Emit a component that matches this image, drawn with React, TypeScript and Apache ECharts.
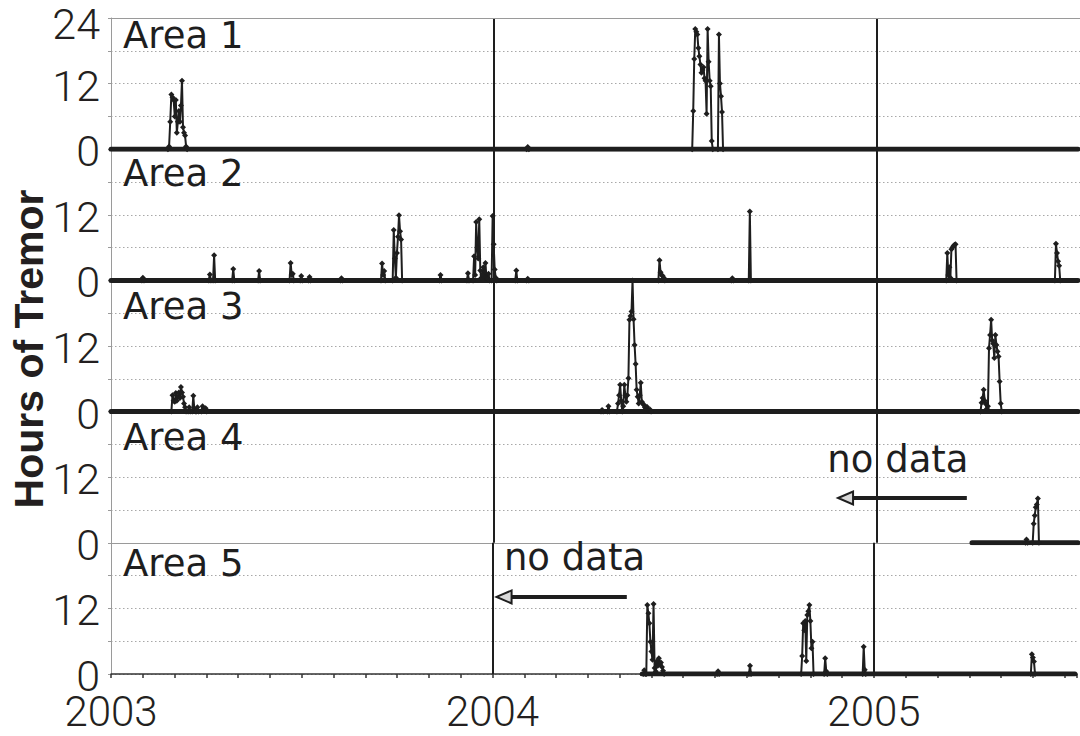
import React, { useEffect, useRef } from "react";
import * as echarts from "echarts";

type Reading = [string, number];

// Daily hours of tremor per monitoring area (days not listed are zero).
const area1Hours: Reading[] = [
  ["2003-02-23", 0], ["2003-02-24", 0.5], ["2003-02-25", 5], ["2003-02-26", 10], ["2003-02-27", 9.5],
  ["2003-02-28", 9], ["2003-03-01", 6], ["2003-03-02", 9], ["2003-03-03", 3], ["2003-03-04", 5],
  ["2003-03-05", 7], ["2003-03-06", 5], ["2003-03-07", 8], ["2003-03-08", 12.5], ["2003-03-09", 4],
  ["2003-03-10", 3], ["2003-03-11", 2.5], ["2003-03-12", 0.5], ["2003-03-13", 0],
  ["2004-02-02", 0], ["2004-02-03", 0.4], ["2004-02-04", 0],
  ["2004-07-08", 0], ["2004-07-09", 7], ["2004-07-10", 16.5], ["2004-07-11", 22], ["2004-07-12", 21.5],
  ["2004-07-13", 21], ["2004-07-14", 18.5], ["2004-07-15", 17], ["2004-07-16", 15.5], ["2004-07-17", 14],
  ["2004-07-18", 14.5], ["2004-07-19", 15], ["2004-07-20", 13], ["2004-07-21", 12.5], ["2004-07-22", 6.5],
  ["2004-07-23", 22], ["2004-07-24", 16], ["2004-07-25", 12.5], ["2004-07-26", 11.5], ["2004-07-27", 1.5],
  ["2004-07-28", 0],
  ["2004-08-02", 0], ["2004-08-03", 21], ["2004-08-04", 12], ["2004-08-05", 9.7], ["2004-08-06", 6.8],
  ["2004-08-07", 0],
];

const area2Hours: Reading[] = [
  ["2003-01-31", 0], ["2003-02-01", 0.5], ["2003-02-02", 0],
  ["2003-04-03", 0], ["2003-04-04", 1.1], ["2003-04-05", 0], ["2003-04-07", 0], ["2003-04-08", 4.6], ["2003-04-09", 0],
  ["2003-04-25", 0], ["2003-04-26", 2.1], ["2003-04-27", 0],
  ["2003-05-20", 0], ["2003-05-21", 1.7], ["2003-05-22", 0],
  ["2003-06-19", 0], ["2003-06-20", 3.2], ["2003-06-21", 1], ["2003-06-22", 1.2], ["2003-06-23", 0],
  ["2003-06-29", 0], ["2003-06-30", 0.8], ["2003-07-01", 0],
  ["2003-07-07", 0], ["2003-07-08", 0.6], ["2003-07-09", 0],
  ["2003-08-07", 0], ["2003-08-08", 0.4], ["2003-08-09", 0],
  ["2003-09-15", 0], ["2003-09-16", 3.1], ["2003-09-17", 1], ["2003-09-18", 1.7], ["2003-09-19", 0],
  ["2003-09-26", 0], ["2003-09-27", 9.2], ["2003-09-28", 4], ["2003-09-29", 0.5], ["2003-09-30", 5],
  ["2003-10-01", 8], ["2003-10-02", 11.9], ["2003-10-03", 9], ["2003-10-04", 7.5], ["2003-10-05", 0],
  ["2003-11-10", 0], ["2003-11-11", 1], ["2003-11-12", 0],
  ["2003-12-06", 0], ["2003-12-07", 1.3], ["2003-12-08", 0],
  ["2003-12-12", 0], ["2003-12-13", 4.4], ["2003-12-14", 1], ["2003-12-15", 10.7], ["2003-12-16", 6],
  ["2003-12-17", 4], ["2003-12-18", 11.2], ["2003-12-19", 1.8], ["2003-12-20", 0.5], ["2003-12-21", 1],
  ["2003-12-22", 2.4], ["2003-12-23", 0.5], ["2003-12-24", 3.2], ["2003-12-25", 0.5], ["2003-12-26", 0.3],
  ["2003-12-27", 1.2], ["2003-12-28", 0],
  ["2003-12-30", 0], ["2003-12-31", 11.8], ["2004-01-01", 6.6], ["2004-01-02", 2], ["2004-01-03", 0.5], ["2004-01-04", 0],
  ["2004-01-22", 0], ["2004-01-23", 1.8], ["2004-01-24", 0],
  ["2004-02-02", 0], ["2004-02-03", 0.3], ["2004-02-04", 0],
  ["2004-06-06", 0], ["2004-06-07", 3.7], ["2004-06-08", 1.5], ["2004-06-09", 1], ["2004-06-10", 0.8],
  ["2004-06-11", 0.5], ["2004-06-12", 0],
  ["2004-08-15", 0], ["2004-08-16", 0.4], ["2004-08-17", 0],
  ["2004-09-01", 0], ["2004-09-02", 12.6], ["2004-09-03", 0],
  ["2005-03-07", 0], ["2005-03-08", 5], ["2005-03-09", 1], ["2005-03-10", 2.4], ["2005-03-11", 0.5],
  ["2005-03-12", 5.7], ["2005-03-13", 6], ["2005-03-14", 6.3], ["2005-03-15", 6.5], ["2005-03-16", 6.6],
  ["2005-03-17", 0],
  ["2005-06-19", 0], ["2005-06-20", 6.7], ["2005-06-21", 5], ["2005-06-22", 3.5], ["2005-06-23", 2.7],
  ["2005-06-24", 0],
];

const area3Hours: Reading[] = [
  ["2003-02-26", 0], ["2003-02-27", 3], ["2003-02-28", 2], ["2003-03-01", 1.8], ["2003-03-02", 3.4],
  ["2003-03-03", 2], ["2003-03-04", 2.7], ["2003-03-05", 3.5], ["2003-03-06", 2.5], ["2003-03-07", 4.5],
  ["2003-03-08", 3.5], ["2003-03-09", 2.7], ["2003-03-10", 1.5], ["2003-03-11", 0.8], ["2003-03-12", 0],
  ["2003-03-14", 0], ["2003-03-15", 0.8], ["2003-03-16", 0],
  ["2003-03-18", 0], ["2003-03-19", 2.9], ["2003-03-20", 0.5], ["2003-03-21", 0],
  ["2003-03-22", 0], ["2003-03-23", 0.8], ["2003-03-24", 0],
  ["2003-03-27", 0], ["2003-03-28", 1], ["2003-03-29", 0.5], ["2003-03-30", 0.2], ["2003-03-31", 0.6],
  ["2003-04-01", 0],
  ["2004-04-12", 0], ["2004-04-13", 0.3], ["2004-04-14", 0], ["2004-04-18", 0], ["2004-04-19", 1], ["2004-04-20", 0],
  ["2004-04-27", 0], ["2004-04-28", 1.5], ["2004-04-29", 3], ["2004-04-30", 4.9], ["2004-05-01", 2],
  ["2004-05-02", 0], ["2004-05-03", 1], ["2004-05-04", 4.9], ["2004-05-05", 3], ["2004-05-06", 1.8],
  ["2004-05-07", 3], ["2004-05-08", 6.1], ["2004-05-09", 16.8], ["2004-05-10", 17.5], ["2004-05-11", 18.3],
  ["2004-05-12", 24], ["2004-05-13", 16.9], ["2004-05-14", 12.2], ["2004-05-15", 8.7], ["2004-05-16", 4],
  ["2004-05-17", 2.7], ["2004-05-18", 1.5], ["2004-05-19", 3], ["2004-05-20", 5.3], ["2004-05-21", 1.8],
  ["2004-05-22", 1.5], ["2004-05-23", 1.2], ["2004-05-24", 0.8], ["2004-05-25", 0.5], ["2004-05-26", 0.9],
  ["2004-05-27", 0.3], ["2004-05-28", 0.2], ["2004-05-29", 0.4], ["2004-05-30", 0],
  ["2005-04-09", 0], ["2005-04-10", 1.6], ["2005-04-11", 2.5], ["2005-04-12", 4], ["2005-04-13", 2],
  ["2005-04-14", 1.4], ["2005-04-15", 0.5], ["2005-04-16", 1], ["2005-04-17", 11.6], ["2005-04-18", 14],
  ["2005-04-19", 16.8], ["2005-04-20", 13], ["2005-04-21", 12.4], ["2005-04-22", 9.8], ["2005-04-23", 14],
  ["2005-04-24", 12.2], ["2005-04-25", 11], ["2005-04-26", 10.1], ["2005-04-27", 5.5], ["2005-04-28", 1.5],
  ["2005-04-29", 0],
];

const area4Hours: Reading[] = [
  ["2005-05-22", 0], ["2005-05-23", 0.6], ["2005-05-24", 0],
  ["2005-05-29", 0], ["2005-05-30", 3.5], ["2005-05-31", 5], ["2005-06-01", 6.5], ["2005-06-02", 7],
  ["2005-06-03", 8.1], ["2005-06-04", 0],
];

const area5Hours: Reading[] = [
  ["2004-05-24", 0], ["2004-05-25", 0.7], ["2004-05-26", 0], ["2004-05-27", 0], ["2004-05-28", 12.6],
  ["2004-05-29", 11.1], ["2004-05-30", 9.3], ["2004-05-31", 5.9], ["2004-06-01", 4.1], ["2004-06-02", 2.6],
  ["2004-06-03", 12.8], ["2004-06-04", 1.1], ["2004-06-05", 0.5], ["2004-06-06", 2.3], ["2004-06-07", 1.5],
  ["2004-06-08", 2.9], ["2004-06-09", 1.8], ["2004-06-10", 2.1], ["2004-06-11", 1.3], ["2004-06-12", 0.6],
  ["2004-06-13", 0],
  ["2004-08-03", 0], ["2004-08-04", 0.5], ["2004-08-05", 0],
  ["2004-09-03", 0], ["2004-09-04", 1.5], ["2004-09-05", 0],
  ["2004-10-23", 0], ["2004-10-24", 3.3], ["2004-10-25", 9.3], ["2004-10-26", 8], ["2004-10-27", 9.7],
  ["2004-10-28", 2.4], ["2004-10-29", 10.8], ["2004-10-30", 11.5], ["2004-10-31", 12.6], ["2004-11-01", 9.7],
  ["2004-11-02", 4.7], ["2004-11-03", 5.9], ["2004-11-04", 0],
  ["2004-11-14", 0], ["2004-11-15", 2.9], ["2004-11-16", 0.5], ["2004-11-17", 0],
  ["2004-12-21", 0], ["2004-12-22", 5], ["2004-12-23", 0.8], ["2004-12-24", 0],
  ["2005-05-30", 0], ["2005-05-31", 3.6], ["2005-06-01", 3], ["2005-06-02", 2.3], ["2005-06-03", 0],
];

const areaNames = ["Area 1", "Area 2", "Area 3", "Area 4", "Area 5"];
const areaSeries = [area1Hours, area2Hours, area3Hours, area4Hours, area5Hours];
// First day of recorded data for each area; all records run to recordEnd.
const recordStart = ["2003-01-01", "2003-01-01", "2003-01-01", "2005-04-01", "2004-05-23"];
const recordEnd = "2005-07-11";
const axisStart = "2003-01-01";
const axisEnd = "2005-07-13";
const yearLines = ["2004-01-01", "2005-01-01"];
const hourTicks = [0, 12, 24];

// "no data" notes: arrow from → to at a height in hours, text centred at a date
const noDataNotes = [
  { panel: 3, from: "2005-03-27", to: "2004-11-25", hours: 8.2, textAt: "2005-01-22", textHours: 12.8 },
  { panel: 4, from: "2004-05-08", to: "2004-01-05", hours: 14.1, textAt: "2004-03-19", textHours: 19.0 },
];

// Date string -> months since January 2003 (fractional within the month)
function toMonths(date: string): number {
  const [y, m, d] = date.split("-").map(Number);
  const days = new Date(Date.UTC(y, m, 0)).getUTCDate();
  return (y - 2003) * 12 + (m - 1) + (d - 1) / days;
}

const INK = "#1e1e1e";
const TEXT = "#231f20";
const GRAY = "#9a9a9a";
const NUM_FONT = "Roboto, 'Liberation Sans', Arial, sans-serif";
const LABEL_FONT = "'DejaVu Sans', Verdana, sans-serif";

const GRID_LEFT = 111;
const PANEL_TOP = 18;
const PANEL_H = 131.2;
const AREA_LABEL_MID = [35.5, 173.9, 306.5, 437.2, 563.2];

export default function App() {
  const ref = useRef<HTMLDivElement>(null);

  useEffect(() => {
    if (!ref.current) return;
    const chart = echarts.init(ref.current, null, { renderer: "svg" });
    const n = areaSeries.length;
    const xMax = toMonths(axisEnd);

    const grid = areaSeries.map((_, i) => ({
      left: GRID_LEFT,
      right: 0,
      top: PANEL_TOP + i * PANEL_H,
      height: PANEL_H,
    }));

    const xAxis = areaSeries.map((_, i) => {
      const bottom = i === n - 1;
      return {
        gridIndex: i,
        type: "value",
        min: toMonths(axisStart),
        max: xMax,
        interval: 1,
        axisLine: { show: true, onZero: false, lineStyle: { color: bottom ? "#333" : GRAY, width: bottom ? 1.5 : 1 } },
        axisTick: { show: bottom, length: 4, inside: false, lineStyle: { color: "#333", width: 1.5 } },
        axisLabel: {
          show: bottom,
          margin: 16,
          fontSize: 42,
          fontFamily: NUM_FONT,
          fontWeight: 300,
          color: TEXT,
          formatter: (v: number) => (Math.abs(v % 12) < 1e-6 ? String(2003 + Math.round(v / 12)) : ""),
        },
        splitLine: { show: false },
      };
    });

    const yAxis = areaSeries.map((_, i) => ({
      gridIndex: i,
      type: "value",
      min: 0,
      max: 24,
      interval: 6,
      axisLine: { show: true, lineStyle: { color: GRAY, width: 1 } },
      axisTick: { show: true, length: 3, lineStyle: { color: GRAY } },
      axisLabel: {
        margin: 11,
        fontSize: 43,
        fontFamily: NUM_FONT,
        fontWeight: 300,
        color: TEXT,
        padding: [4, 0, 0, 0],
        formatter: (v: number) => {
          if (v === 24) return i === 0 ? "{t|24}" : "";
          return hourTicks.includes(v) ? String(v) : "";
        },
        rich: {
          t: { fontSize: 43, fontFamily: NUM_FONT, fontWeight: 300, color: TEXT, padding: [8, 0, 0, 0] },
        },
      },
      splitLine: { show: true, lineStyle: { color: "#a8a8a8", width: 1, type: [1.5, 2.5] } },
    }));

    const series: any[] = [];
    areaSeries.forEach((readings, i) => {
      const lines: any[] = yearLines.map((d) => ({ xAxis: toMonths(d) }));
      if (i === 0) lines.push({ yAxis: 24, lineStyle: { color: GRAY, width: 1, type: "solid" } });
      series.push({
        name: areaNames[i] + " record",
        type: "line",
        xAxisIndex: i,
        yAxisIndex: i,
        data: [
          [toMonths(recordStart[i]), 0],
          [toMonths(recordEnd), 0],
        ],
        symbol: "none",
        lineStyle: { color: INK, width: 5, cap: "round" },
        silent: true,
        z: 2,
        markLine: {
          silent: true,
          symbol: ["none", "none"],
          label: { show: false },
          lineStyle: { color: INK, width: 2, type: "solid" },
          data: lines,
        },
      });
      series.push({
        name: areaNames[i],
        type: "line",
        xAxisIndex: i,
        yAxisIndex: i,
        data: readings.map(([d, h]) => [toMonths(d), h]),
        symbol: "diamond",
        symbolSize: 6,
        showSymbol: true,
        itemStyle: { color: INK },
        lineStyle: { color: INK, width: 2 },
        z: 3,
      });
    });

    chart.setOption({
      animation: false,
      backgroundColor: "#ffffff",
      grid,
      xAxis,
      yAxis,
      series,
    });

    const px = (panel: number, date: string, h: number) =>
      chart.convertToPixel({ gridIndex: panel } as any, [toMonths(date), h]) as number[];

    const graphic: any[] = [];
    areaNames.forEach((name, i) => {
      graphic.push({
        type: "text",
        x: GRID_LEFT + 12,
        y: AREA_LABEL_MID[i],
        z: 10,
        style: { text: name, fontSize: 37, fontFamily: LABEL_FONT, fill: INK, align: "left", verticalAlign: "middle" },
      });
    });
    noDataNotes.forEach((note) => {
      const tail = px(note.panel, note.from, note.hours);
      const tip = px(note.panel, note.to, note.hours);
      const mid = px(note.panel, note.textAt, note.textHours);
      graphic.push({
        type: "line",
        z: 10,
        shape: { x1: tail[0], y1: tail[1], x2: tip[0] + 12, y2: tip[1] },
        style: { stroke: INK, lineWidth: 4 },
      });
      graphic.push({
        type: "polygon",
        z: 11,
        shape: { points: [[tip[0], tip[1]], [tip[0] + 15, tip[1] - 6.5], [tip[0] + 15, tip[1] + 6.5]] },
        style: { fill: "#d8d8d8", stroke: INK, lineWidth: 2 },
      });
      graphic.push({
        type: "text",
        x: mid[0],
        y: mid[1] - 13,
        z: 10,
        style: { text: "no data", fontSize: 37, fontFamily: LABEL_FONT, fill: INK, align: "center", verticalAlign: "middle" },
      });
    });
    graphic.push({
      type: "text",
      x: 29,
      y: 349,
      rotation: Math.PI / 2,
      z: 10,
      style: {
        text: "Hours of Tremor",
        fontSize: 41,
        fontWeight: "bold",
        fontFamily: "'Liberation Sans', Arial, sans-serif",
        fill: TEXT,
        align: "center",
        verticalAlign: "middle",
      },
    });
    chart.setOption({ graphic });

    return () => chart.dispose();
  }, []);

  return (
    <div
      ref={ref}
      style={{ position: "fixed", left: 0, top: 0, width: 1080, height: 736, background: "#fff" }}
    />
  );
}
